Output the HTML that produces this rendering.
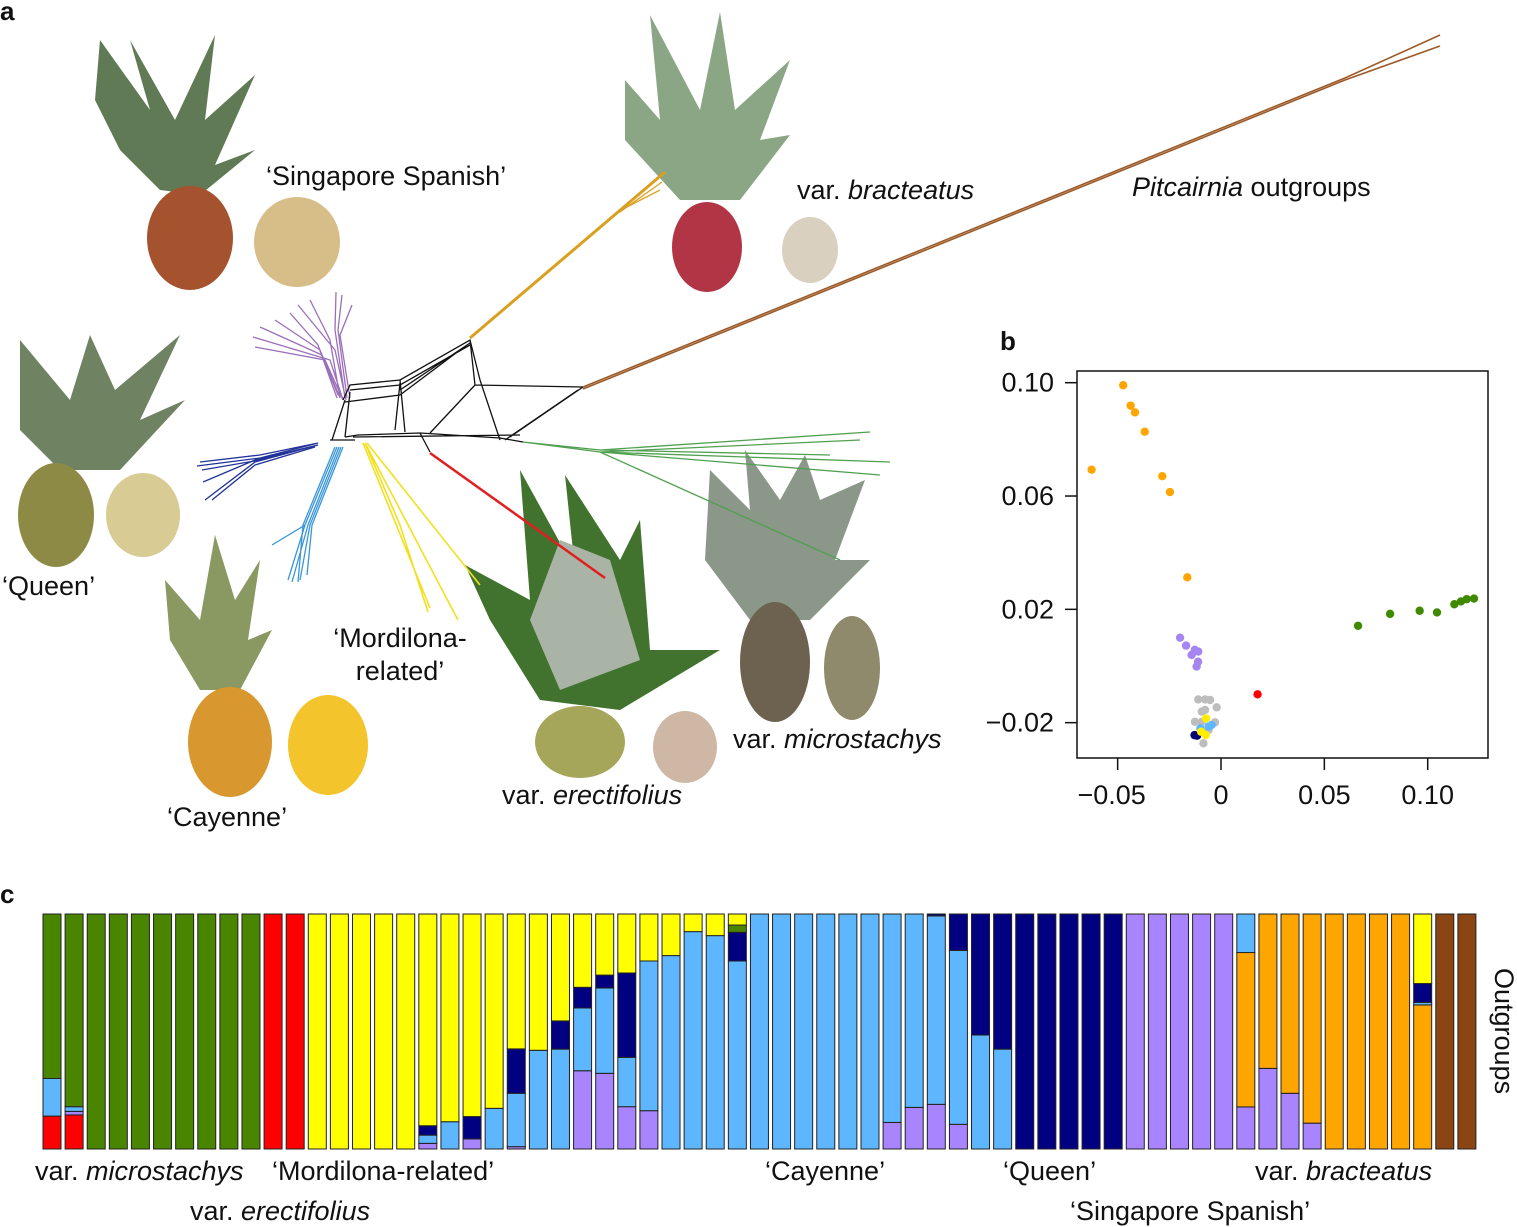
<!DOCTYPE html>
<html><head><meta charset="utf-8">
<style>
html,body{margin:0;padding:0;background:#fff;}
svg{display:block;font-family:"Liberation Sans",sans-serif;}
text{font-size:27px;fill:#111;}
</style></head>
<body>
<svg id="fig" width="1517" height="1227" viewBox="0 0 1517 1227" xmlns="http://www.w3.org/2000/svg">
<g>
<text x="0" y="20" font-weight="bold" style="font-size:26px">a</text>
<g>
<polygon points="100,40 150,110 130,40 175,120 215,35 205,120 255,75 215,165 255,150 200,195 160,190 120,150 95,100" fill="#5f7a55"/>
<ellipse cx="190" cy="238" rx="43" ry="52" fill="#a5532e"/>
<ellipse cx="297" cy="242" rx="43" ry="45" fill="#d7bd88"/>
</g>
<g>
<polygon points="20,340 70,400 90,335 115,390 180,335 140,420 185,400 120,470 60,470 20,430" fill="#6f8262"/>
<ellipse cx="56" cy="515" rx="38" ry="52" fill="#8d8a45"/>
<ellipse cx="143" cy="515" rx="37" ry="42" fill="#d8cc94"/>
</g>
<g>
<polygon points="165,580 200,620 215,535 235,600 260,560 248,640 272,630 240,690 200,690 170,640" fill="#8a9862"/>
<ellipse cx="230" cy="742" rx="42" ry="55" fill="#d9982f"/>
<ellipse cx="328" cy="745" rx="40" ry="50" fill="#f3c42c"/>
</g>
<g>
<polygon points="625,80 660,120 650,15 700,110 720,12 735,110 790,60 760,140 790,135 740,200 680,200 625,140" fill="#8aa685"/>
<ellipse cx="707" cy="247" rx="35" ry="45" fill="#b23545"/>
<ellipse cx="810" cy="250" rx="28" ry="33" fill="#d9d0c0"/>
</g>
<g>
<polygon points="465,565 530,600 520,470 575,570 565,475 620,560 640,520 650,650 720,650 620,710 540,700 490,620" fill="#41722e"/>
<polygon points="530,620 560,540 610,560 640,660 560,690" fill="#a9b3a6"/>
<ellipse cx="580" cy="742" rx="45" ry="36" fill="#a5a65a"/>
<ellipse cx="685" cy="747" rx="32" ry="36" fill="#cfb7a6"/>
</g>
<g>
<polygon points="710,470 750,510 745,450 780,500 805,455 820,500 865,480 835,560 870,560 810,620 750,620 705,560" fill="#8b9788"/>
<ellipse cx="775" cy="662" rx="35" ry="60" fill="#6c624f"/>
<ellipse cx="852" cy="668" rx="28" ry="52" fill="#8f8a6c"/>
</g>
<g fill="none" stroke-width="1.3">
<g stroke="#9a6fba">
<path d="M343,400 L330,360 L253,337 M343,400 L325,360 L255,347 M340,398 L322,355 L260,327 M338,395 L320,350 L275,320 M337,398 L318,345 L290,313 M340,398 L330,340 L310,300 M345,398 L335,330 L336,292 M347,398 L338,330 L342,295 M350,398 L340,335 L352,305 M346,400 L335,350 L298,305"/>
</g>
<g stroke="#111">
<path d="M343,400 L350,385 L400,380 L470,340 L475,385 L583,387 M350,390 L400,385 L470,345 M345,402 L400,395 L460,350 M345,437 L358,435 L420,433 L500,438 L523,442 M345,437 L350,392 M332,440 L345,400 M353,437 L520,435 M400,380 L405,432 M470,340 L480,380 L500,440 M475,385 L430,433 M583,387 L510,437 M578,390 L505,440 M470,343 L400,390 M400,383 L395,430 M330,440 L355,440 M420,433 L430,452"/>
</g>
<line x1="470" y1="338" x2="665" y2="172" stroke="#d9a020" stroke-width="3"/>
<path d="M620,212 L662,182 M625,208 L660,190" stroke="#d9a020"/>
<path d="M583,387 L1345,78 L1440,35 M583,389 L1345,80 L1440,46" stroke="#9c5a28" stroke-width="1.6"/>
<g stroke="#50a050">
<path d="M523,442 L600,450 L870,432 M523,442 L600,452 L890,462 M523,442 L600,452 L880,475 M600,452 L840,560 M600,452 L860,440 M600,450 L830,455"/>
</g>
<g stroke="#223399">
<path d="M318,443 L260,455 L200,462 M318,443 L260,458 L197,466 M318,445 L260,460 L202,470 M318,445 L255,460 L203,482 M318,445 L255,462 L205,500 M315,447 L255,465 L212,500"/>
</g>
<g stroke="#3a96d8">
<path d="M337,447 L305,525 L272,545 M337,447 L305,525 L288,580 M339,447 L308,525 L292,582 M341,447 L310,525 L300,580 M343,447 L312,525 L307,575 M335,447 L303,525 L298,582"/>
</g>
<g stroke="#f2e020" stroke-width="1.6">
<path d="M363,443 L430,608 M365,443 L458,620 M367,443 L480,585 M365,443 L400,525 L428,612"/>
</g>
<line x1="430" y1="453" x2="605" y2="578" stroke="#e02020" stroke-width="2.5"/>
</g>
<text x="266" y="185">‘Singapore Spanish’</text>
<text x="797" y="199">var. <tspan font-style="italic">bracteatus</tspan></text>
<text x="1132" y="196"><tspan font-style="italic">Pitcairnia</tspan> outgroups</text>
<text x="2" y="595">‘Queen’</text>
<text x="400" y="647" text-anchor="middle">‘Mordilona-</text>
<text x="400" y="680" text-anchor="middle">related’</text>
<text x="167" y="826">‘Cayenne’</text>
<text x="502" y="804">var. <tspan font-style="italic">erectifolius</tspan></text>
<text x="733" y="748">var. <tspan font-style="italic">microstachys</tspan></text>
</g>
<g id="pb">
<text x="1000" y="350" font-weight="bold" style="font-size:26px">b</text>
</g>
<g id="pc">
<text x="0" y="903" font-weight="bold" style="font-size:26px">c</text>
<text x="35" y="1180">var. <tspan font-style="italic">microstachys</tspan></text>
<text x="272" y="1180">‘Mordilona-related’</text>
<text x="765" y="1180">‘Cayenne’</text>
<text x="1003" y="1180">‘Queen’</text>
<text x="1255" y="1180">var. <tspan font-style="italic">bracteatus</tspan></text>
<text x="190" y="1220">var. <tspan font-style="italic">erectifolius</tspan></text>
<text x="1070" y="1220">‘Singapore Spanish’</text>
<text x="0" y="0" transform="translate(1495,968) rotate(90)">Outgroups</text>
</g>
</svg>
<script>
const NS="http://www.w3.org/2000/svg";
const xTicks=[-0.05,0,0.05,0.10];
const xTickLabels=["−0.05","0","0.05","0.10"];
const yTicks=[0.10,0.06,0.02,-0.02];
const yTickLabels=["0.10","0.06","0.02","−0.02"];
const orangeX=[-0.0473,-0.0437,-0.0416,-0.0369,-0.0626,-0.0284,-0.0247,-0.0163];
const orangeY=[0.0991,0.0919,0.0895,0.0827,0.0693,0.0670,0.0614,0.0313];
const purpleX=[-0.0198,-0.0169,-0.0142,-0.0110,-0.0111,-0.0118,-0.0127];
const purpleY=[0.0100,0.0072,0.0039,0.0051,0.0015,-0.0002,0.0057];
const redX=[0.0177];
const redY=[-0.0100];
const greenX=[0.0663,0.0818,0.0961,0.1045,0.1129,0.1161,0.1189,0.1224];
const greenY=[0.0142,0.0184,0.0195,0.0189,0.0218,0.0228,0.0236,0.0238];
const greyX=[-0.0110,-0.0077,-0.0053,-0.0021,-0.0093,-0.0077,-0.0126,-0.0093,-0.0029,-0.0085,-0.0060];
const greyY=[-0.0118,-0.0118,-0.0120,-0.0146,-0.0161,-0.0155,-0.0197,-0.0197,-0.0199,-0.0273,-0.0226];
const lightBlueX=[-0.0060,-0.0045,-0.0100];
const lightBlueY=[-0.0214,-0.0208,-0.0220];
const navyX=[-0.0128,-0.0116];
const navyY=[-0.0244,-0.0246];
const yellowX=[-0.0096,-0.0072,-0.0074];
const yellowY=[-0.0232,-0.0185,-0.0244];

const px=v=>1221+v*2067;
const py=v=>666-v*2833;
const pb=document.getElementById('pb');
function mk(tag,attrs,parent){const e=document.createElementNS(NS,tag);for(const k in attrs)e.setAttribute(k,attrs[k]);parent.appendChild(e);return e;}
const frame=mk('rect',{x:1077,y:371,width:411,height:387,fill:'none',stroke:'#111','stroke-width':1.5},pb);


xTicks.forEach((t,i)=>{
  const l=mk('line',{x1:px(t),x2:px(t),y1:758,y2:770,stroke:'#111','stroke-width':1.5},pb);
  
  
  const tx=mk('text',{x:px(t)+(t<0?-6:0),y:804,'text-anchor':'middle'},pb);tx.textContent=xTickLabels[i];
  
  
});
yTicks.forEach((t,i)=>{
  const l=mk('line',{x1:1065,x2:1077,y1:py(t),y2:py(t),stroke:'#111','stroke-width':1.5},pb);
  
  
  const tx=mk('text',{x:1054,y:py(t)+9,'text-anchor':'end'},pb);tx.textContent=yTickLabels[i];
  
  
});
function pts(xs,ys,col,name){xs.forEach((x,i)=>{
  const c=mk('circle',{cx:px(x),cy:py(ys[i]),r:4.2,fill:col},pb);
  
  
});}
pts(greyX,greyY,'#bdbdbd','point-grey');
pts(orangeX,orangeY,'#ffa500','point-orange');
pts(purpleX,purpleY,'#a585f0','point-purple');
pts(redX,redY,'#ff0000','point-red');
pts(greenX,greenY,'#3f8a00','point-green');
pts(lightBlueX,lightBlueY,'#5eb6ff','point-light-blue');
pts(navyX,navyY,'#000070','point-navy');
pts(yellowX,yellowY,'#ffee00','point-yellow');

const colors={g:'#4a8500',r:'#ff0000',y:'#ffff00',lb:'#5eb6ff',n:'#000080',p:'#a884ff',o:'#ffa500',b:'#8b4513'};
const stacks=[
[['r',.14],['lb',.16],['g',.70]],
[['r',.145],['p',.015],['lb',.02],['g',.82]],
[['g',1]],[['g',1]],[['g',1]],[['g',1]],[['g',1]],[['g',1]],[['g',1]],[['g',1]],
[['r',1]],[['r',1]],
[['y',1]],[['y',1]],[['y',1]],[['y',1]],[['y',1]],
[['p',.024],['lb',.035],['n',.04],['y',.901]],
[['lb',.116],['y',.884]],
[['p',.043],['n',.095],['y',.862]],
[['lb',.173],['y',.827]],
[['p',.01],['lb',.227],['n',.189],['y',.574]],
[['lb',.42],['y',.58]],
[['lb',.425],['n',.12],['y',.455]],
[['p',.333],['lb',.267],['n',.088],['y',.312]],
[['p',.322],['lb',.363],['n',.055],['y',.26]],
[['p',.18],['lb',.21],['n',.359],['y',.251]],
[['p',.163],['lb',.637],['y',.2]],
[['lb',.823],['y',.177]],
[['lb',.925],['y',.075]],
[['lb',.908],['y',.092]],
[['lb',.8],['n',.122],['g',.031],['y',.047]],
[['lb',1]],[['lb',1]],[['lb',1]],[['lb',1]],[['lb',1]],[['lb',1]],
[['p',.113],['lb',.887]],
[['p',.177],['lb',.823]],
[['p',.19],['lb',.802],['n',.008]],
[['p',.105],['lb',.74],['n',.155]],
[['lb',.485],['n',.515]],
[['lb',.425],['n',.575]],
[['n',1]],[['n',1]],[['n',1]],[['n',1]],[['n',1]],
[['p',1]],[['p',1]],[['p',1]],[['p',1]],[['p',1]],
[['p',.179],['o',.657],['lb',.164]],
[['p',.343],['o',.657]],
[['p',.237],['o',.763]],
[['p',.11],['o',.89]],
[['o',1]],[['o',1]],[['o',1]],[['o',1]],
[['o',.613],['lb',.011],['n',.08],['y',.296]],
[['b',1]],[['b',1]]
];
const pc=document.getElementById('pc');
const barX0=43, barPitch=(1480-43)/stacks.length, barW=18, barTop=914, barBot=1149, barH=barBot-barTop;
stacks.forEach((st,i)=>{
  const g=mk('g',{},pc);
  
  
  let acc=0;
  st.forEach(([k,v])=>{
    const y1=barBot-(acc+v)*barH, h=v*barH;
    const r=mk('rect',{x:barX0+i*barPitch,y:y1,width:barW,height:h,fill:colors[k],stroke:'#222','stroke-width':1},g);
    
    
    acc+=v;
  });
});
</script>
</body></html>
